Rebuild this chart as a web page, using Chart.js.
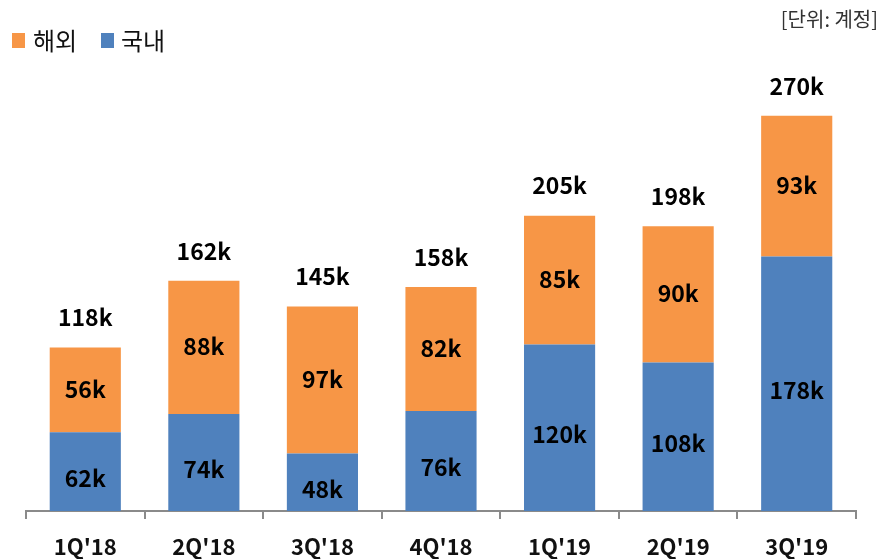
<!DOCTYPE html>
<html>
<head>
<meta charset="utf-8">
<script src="https://cdn.jsdelivr.net/npm/chart.js@4.4.0/dist/chart.umd.min.js"></script>
<style>
  html, body { margin: 0; padding: 0; background: #fff; }
  #wrap { width: 883px; height: 559px; position: relative; }
</style>
</head>
<body>
<div id="wrap"><canvas id="c" width="883" height="559"></canvas></div>
<script>
// quarters and account counts (k)
const quarters = ["1Q'18", "2Q'18", "3Q'18", "4Q'18", "1Q'19", "2Q'19", "3Q'19"];
const domestic = [62, 74, 48, 76, 120, 108, 178];   // 국내
const overseas = [56, 88, 97, 82, 85, 90, 93];      // 해외
const totals = [118, 162, 145, 158, 205, 198, 270];

const BLUE = '#4F81BD';
const ORANGE = '#F79646';
const FONT = '"Noto Sans CJK KR", "Noto Sans", sans-serif';

// value labels, legend and unit note
const labelPlugin = {
    id: 'labels',
    afterDatasetsDraw(chart) {
        const ctx = chart.ctx;
        ctx.save();
        ctx.fillStyle = '#000';
        ctx.textAlign = 'center';
        ctx.textBaseline = 'middle';
        ctx.font = 'bold 23px ' + FONT;
        chart.data.datasets.forEach((ds, di) => {
            const meta = chart.getDatasetMeta(di);
            meta.data.forEach((bar, i) => {
                const mid = (bar.y + bar.base) / 2;
                ctx.fillText(ds.data[i] + 'k', bar.x, mid - 1);
            });
        });
        const top = chart.getDatasetMeta(1);
        top.data.forEach((bar, i) => {
            ctx.fillText(totals[i] + 'k', bar.x, bar.y - 30);
        });

        // legend
        ctx.textAlign = 'left';
        ctx.font = '24px ' + FONT;
        ctx.fillStyle = ORANGE;
        ctx.fillRect(12, 33, 13, 15);
        ctx.fillStyle = '#111';
        ctx.fillText('해외', 33, 41);
        ctx.fillStyle = BLUE;
        ctx.fillRect(101, 33, 13, 15);
        ctx.fillStyle = '#111';
        ctx.fillText('국내', 121, 41);

        // unit
        ctx.textAlign = 'right';
        ctx.font = '20px ' + FONT;
        ctx.fillStyle = '#333';
        ctx.fillText('[단위: 계정]', 878, 19);
        ctx.restore();
    }
};

new Chart(document.getElementById('c'), {
    type: 'bar',
    data: {
        labels: quarters,
        datasets: [
            { label: '국내', data: domestic, backgroundColor: BLUE },
            { label: '해외', data: overseas, backgroundColor: ORANGE }
        ]
    },
    options: {
        responsive: false,
        animation: false,
        layout: { padding: { left: 26, right: 27, top: 87, bottom: 0 } },
        datasets: { bar: { barPercentage: 0.6, categoryPercentage: 1.0 } },
        plugins: { legend: { display: false }, tooltip: { enabled: false } },
        scales: {
            x: {
                stacked: true,
                grid: { offset: true, drawOnChartArea: false, tickLength: 8, color: '#8a8a8a', lineWidth: 2 },
                border: { color: '#8a8a8a', width: 2 },
                ticks: { color: '#111', padding: 14, font: { family: FONT, size: 22, weight: 'bold' } },
                afterFit(s) { s.height = 48; }
            },
            y: {
                stacked: true,
                display: false,
                min: 10,
                max: 290
            }
        }
    },
    plugins: [labelPlugin]
});
</script>
</body>
</html>
